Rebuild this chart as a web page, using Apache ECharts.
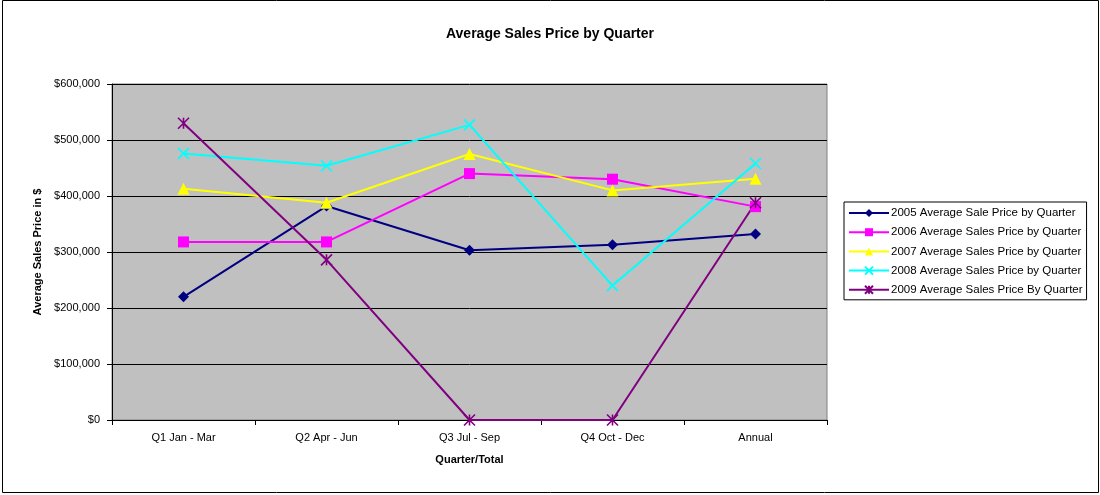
<!DOCTYPE html>
<html>
<head>
<meta charset="utf-8">
<script src="https://cdn.jsdelivr.net/npm/echarts@6/dist/echarts.min.js"></script>
<style>
  html, body { margin: 0; padding: 0; background: #fff; }
  #chart { width: 1100px; height: 495px; }
</style>
</head>
<body>
<div id="chart"></div>
<script>
const quarters = ['Q1 Jan - Mar', 'Q2 Apr - Jun', 'Q3 Jul - Sep', 'Q4 Oct - Dec', 'Annual'];
const yTicks = [0, 100000, 200000, 300000, 400000, 500000, 600000];

const sales2005 = [220000, 382000, 303000, 313000, 332000];
const sales2006 = [318000, 318000, 440000, 430000, 381000];
const sales2007 = [413000, 388000, 475000, 410000, 431000];
const sales2008 = [476000, 454000, 527000, 240000, 458000];
const sales2009 = [530000, 286000, 0, 0, 388000];

const font = 'Liberation Sans, Arial, sans-serif';

// stroked marker shapes for the x and asterisk markers
const xMark = 'path://M0 0L10 10M10 0L0 10';
const starMark = 'path://M0 0L10 10M10 0L0 10M5 0L5 10';

function makeSeries(name, data, color, symbol, size, stroked) {
  return {
    name: name,
    type: 'line',
    data: data,
    symbol: symbol,
    symbolSize: size,
    lineStyle: { color: color, width: 2 },
    itemStyle: stroked
      ? { color: 'transparent', borderColor: color, borderWidth: 1.6 }
      : { color: color, borderWidth: 0 },
    emphasis: { disabled: true },
    animation: false
  };
}

const chart = echarts.init(document.getElementById('chart'));

chart.setOption({
  backgroundColor: '#fff',
  textStyle: { fontFamily: font },
  title: {
    text: 'Average Sales Price by Quarter',
    left: 'center',
    top: 22,
    textStyle: { fontSize: 14, fontWeight: 'bold', color: '#000', fontFamily: font }
  },
  graphic: [{
    type: 'rect',
    shape: { x: 2.5, y: 0.5, width: 1096, height: 492 },
    style: { fill: 'none', stroke: '#000', lineWidth: 1 },
    silent: true
  }],
  legend: {
    orient: 'vertical',
    left: 844,
    top: 202,
    itemWidth: 40,
    itemHeight: 10,
    itemGap: 7.2,
    padding: [5, 4, 4, 4],
    borderColor: '#000',
    borderWidth: 1,
    backgroundColor: '#fff',
    textStyle: { fontSize: 11.5, color: '#000', fontFamily: font, padding: [0, 0, 0, -3] },
    data: [
      '2005 Average Sale Price by Quarter',
      '2006 Average Sales Price by Quarter',
      '2007 Average Sales Price by Quarter',
      '2008 Average Sales Price by Quarter',
      '2009 Average Sales Price By Quarter'
    ]
  },
  grid: {
    left: 112,
    top: 84,
    width: 715,
    height: 336,
    show: true,
    backgroundColor: '#C0C0C0',
    borderColor: '#808080',
    borderWidth: 1
  },
  xAxis: {
    type: 'category',
    data: quarters,
    boundaryGap: true,
    name: 'Quarter/Total',
    nameLocation: 'middle',
    nameGap: 34,
    nameTextStyle: { fontSize: 11, fontWeight: 'bold', color: '#000' },
    axisLine: { lineStyle: { color: '#000', width: 1 } },
    axisTick: { show: true, length: 5, inside: false, lineStyle: { color: '#000' } },
    axisLabel: { fontSize: 11, color: '#000', margin: 12 }
  },
  yAxis: {
    type: 'value',
    min: 0,
    max: 600000,
    interval: 100000,
    name: 'Average Sales Price in $',
    nameLocation: 'middle',
    nameGap: 68,
    nameTextStyle: { fontSize: 11, fontWeight: 'bold', color: '#000' },
    axisLine: { show: true, lineStyle: { color: '#000', width: 1 } },
    axisTick: { show: true, length: 5, lineStyle: { color: '#000' } },
    axisLabel: {
      fontSize: 11,
      color: '#000',
      margin: 12,
      formatter: function (v) {
        return yTicks.indexOf(v) >= 0 ? '$' + v.toLocaleString('en-US') : '';
      }
    },
    splitLine: { show: true, lineStyle: { color: '#000', width: 1 } }
  },
  series: [
    makeSeries('2005 Average Sale Price by Quarter', sales2005, '#000080', 'diamond', 11, false),
    makeSeries('2006 Average Sales Price by Quarter', sales2006, '#FF00FF', 'rect', 11, false),
    makeSeries('2007 Average Sales Price by Quarter', sales2007, '#FFFF00', 'triangle', 12, false),
    makeSeries('2008 Average Sales Price by Quarter', sales2008, '#00FFFF', xMark, 11, true),
    makeSeries('2009 Average Sales Price By Quarter', sales2009, '#800080', starMark, 11, true)
  ]
});
</script>
</body>
</html>
